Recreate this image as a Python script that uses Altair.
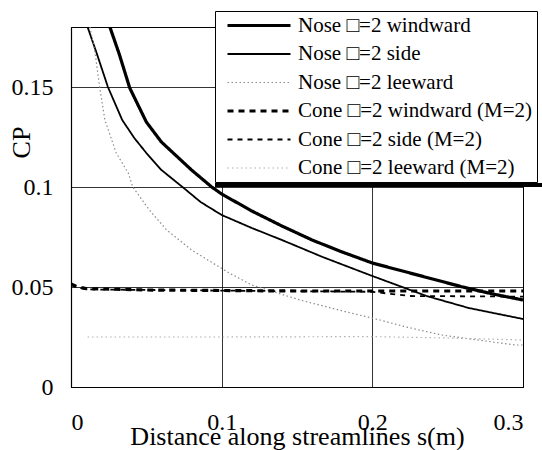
import altair as alt
import pandas as pd

series_names = [
    "Nose □=2 windward",
    "Nose □=2 side",
    "Nose □=2 leeward",
    "Cone □=2 windward (M=2)",
    "Cone □=2 side (M=2)",
    "Cone □=2 leeward (M=2)",
]

nose_windward_s = [0.0258, 0.032, 0.039, 0.05, 0.06, 0.07, 0.08, 0.0934, 0.1, 0.12, 0.14, 0.16, 0.18, 0.2, 0.22, 0.24, 0.26, 0.28, 0.3]
nose_windward_cp = [0.18, 0.1665, 0.1495, 0.1325, 0.1225, 0.1155, 0.1085, 0.100, 0.0965, 0.088, 0.0805, 0.0735, 0.0675, 0.062, 0.058, 0.054, 0.050, 0.0465, 0.0435]

nose_side_s = [0.011, 0.017, 0.0245, 0.034, 0.042, 0.05, 0.06, 0.074, 0.086, 0.1, 0.12, 0.14, 0.167, 0.2, 0.236, 0.264, 0.3]
nose_side_cp = [0.18, 0.167, 0.15, 0.1335, 0.1245, 0.117, 0.1085, 0.1, 0.0925, 0.086, 0.0795, 0.0735, 0.065, 0.0555, 0.0455, 0.0395, 0.034]

nose_lee_s = [0.0126, 0.016, 0.019, 0.0225, 0.030, 0.038, 0.041, 0.052, 0.0635, 0.080, 0.105, 0.12, 0.152, 0.183, 0.205, 0.2225, 0.246, 0.27, 0.295, 0.3]
nose_lee_cp = [0.18, 0.167, 0.15, 0.1335, 0.117, 0.107, 0.1, 0.0885, 0.0785, 0.0685, 0.057, 0.051, 0.0435, 0.0375, 0.0335, 0.030, 0.026, 0.0235, 0.021, 0.021]

cone_windward_s = [0.0, 0.003, 0.01, 0.05, 0.15, 0.3]
cone_windward_cp = [0.0515, 0.0505, 0.0492, 0.0485, 0.048, 0.048]

cone_side_s = [0.0, 0.003, 0.01, 0.1, 0.2, 0.225, 0.3]
cone_side_cp = [0.051, 0.050, 0.0488, 0.0482, 0.0476, 0.0455, 0.0452]

cone_lee_s = [0.011, 0.1, 0.2, 0.25, 0.3]
cone_lee_cp = [0.025, 0.025, 0.0252, 0.0245, 0.0235]

x_ticks = [0, 0.1, 0.2, 0.3]
y_ticks = [0, 0.05, 0.1, 0.15]

series_data = [
    (nose_windward_s, nose_windward_cp),
    (nose_side_s, nose_side_cp),
    (nose_lee_s, nose_lee_cp),
    (cone_windward_s, cone_windward_cp),
    (cone_side_s, cone_side_cp),
    (cone_lee_s, cone_lee_cp),
]

rows = []
for name, (ss, cc) in zip(series_names, series_data):
    for i, (s, c) in enumerate(zip(ss, cc)):
        rows.append({"series": name, "s": s, "cp": c, "order": i})
df = pd.DataFrame(rows)

colors = ["black", "black", "#8c8c8c", "black", "black", "#b0b0b0"]
widths = [3.2, 1.8, 1.2, 3.2, 1.8, 1.2]
dashes = [[1, 0], [1, 0], [1.5, 2.5], [6, 5], [5, 5], [1.5, 3]]

FONT = "Liberation Serif"

lines = alt.Chart(df).mark_line(clip=True).encode(
    x=alt.X(
        "s:Q",
        scale=alt.Scale(domain=[0, 0.3], nice=False, zero=False),
        axis=alt.Axis(
            values=x_ticks, format="~g", title="Distance along streamlines s(m)",
            titleY=57, titleBaseline="alphabetic", labelPadding=23,
        ),
    ),
    y=alt.Y(
        "cp:Q",
        scale=alt.Scale(domain=[0, 0.18], nice=False),
        axis=alt.Axis(
            values=y_ticks, format="~g", title="CP",
            titleX=-50, titleY=115, titleAngle=270, titleAlign="center",
            titleBaseline="middle", labelPadding=18,
        ),
    ),
    color=alt.Color("series:N", scale=alt.Scale(domain=series_names, range=colors),
                    legend=alt.Legend(title=None)),
    strokeDash=alt.StrokeDash("series:N", scale=alt.Scale(domain=series_names, range=dashes),
                              legend=alt.Legend(title=None)),
    strokeWidth=alt.StrokeWidth("series:N", scale=alt.Scale(type="ordinal", domain=series_names, range=widths),
                                legend=alt.Legend(title=None)),
    order="order:Q",
)

shadow = alt.Chart(pd.DataFrame({"k": [0]})).mark_rule(color="black", strokeWidth=4).encode(
    x=alt.value(144), x2=alt.value(472), y=alt.value(158)
)

chart = alt.layer(lines, shadow).properties(
    width=452, height=360,
    padding={"left": 71, "top": 27, "right": 19, "bottom": 63},
    autosize=alt.AutoSizeParams(type="none"),
).configure_view(
    stroke="black", strokeWidth=1
).configure_axis(
    grid=True, gridColor="black", gridWidth=0.8, gridOpacity=1,
    domainColor="black", domainWidth=1.2, ticks=False, tickSize=0,
    labelFont=FONT, labelFontSize=24, labelColor="black",
    titleFont=FONT, titleFontSize=26, titleColor="black", titleFontWeight="normal",
).configure_legend(
    orient="none", legendX=144, legendY=-16,
    fillColor="white", strokeColor="black", padding=4,
    symbolType="M-0.25,0H7.625", symbolSize=256, labelOffset=58,
    rowPadding=6.5, labelFont=FONT, labelFontSize=21, labelColor="black",
    labelLimit=400,
)

chart.save("out.html", embed_options={"renderer": "svg", "actions": False})
